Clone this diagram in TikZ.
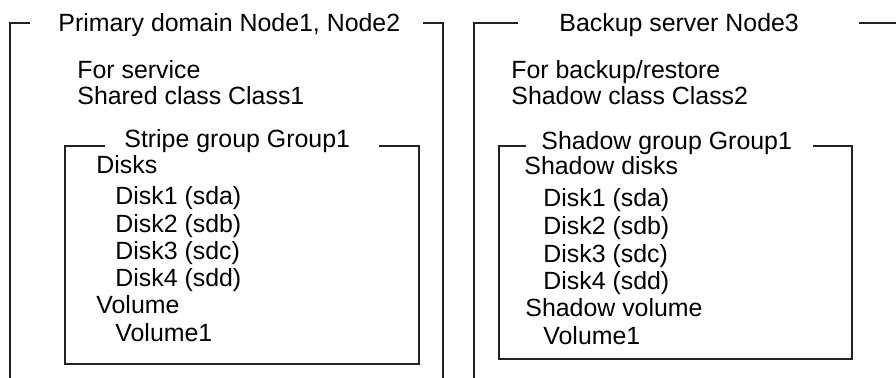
\documentclass[tikz,border=0pt]{standalone}
\usepackage{fontspec}
\setmainfont{Liberation Sans}
\usepackage{xcolor}
\usepackage{tikz}
\definecolor{frameline}{RGB}{34,34,34}

\begin{document}
\begin{tikzpicture}[x=0.5pt, y=-0.5pt, every node/.style={inner sep=0pt, anchor=base west, font=\fontsize{12.45}{15}\selectfont}]
\useasboundingbox (0,0) rectangle (896,378);
% primary domain
\node (pdtitle) at (58,32) {Primary domain Node1, Node2};
\draw[line width=1pt, color=frameline] (30,23) -- (10,23) -- (10,378);
\draw[line width=1pt, color=frameline] (423,23) -- (443,23) -- (443,378);
\node (pduse) at (77,79) {For service};
\node (pdclass) at (77,105) {Shared class Class1};
% stripe group
\node (sgtitle) at (124,148) {Stripe group Group1};
\draw[line width=1pt, color=frameline] (105,146) -- (65,146) -- (65,364) -- (419,364) -- (419,146) -- (379,146);
\node (sgdisks) at (96,174) {Disks};
\foreach \i/\d/\y in {1/a/205,2/b/233,3/c/260,4/d/287}
  \node (sgdisk\i) at (115,\y) {Disk\i{} (sd\d)};
\node (sgvol) at (96,314) {Volume};
\node (sgvolone) at (115,342) {Volume1};
% backup server
\node (bstitle) at (559,32) {Backup server Node3};
\draw[line width=1pt, color=frameline] (518,23) -- (474,23) -- (474,378);
\draw[line width=1pt, color=frameline] (859,23) -- (896,23);
\node (bsuse) at (511,79) {For backup/restore};
\node (bsclass) at (511,105) {Shadow class Class2};
% shadow group
\node (shtitle) at (541,150) {Shadow group Group1};
\draw[line width=1pt, color=frameline] (526,146) -- (499,146) -- (499,359) -- (852,359) -- (852,146) -- (813,146);
\node (shdisks) at (524,175) {Shadow disks};
\foreach \i/\d/\y in {1/a/207,2/b/235,3/c/263,4/d/290}
  \node (shdisk\i) at (543,\y) {Disk\i{} (sd\d)};
\node (shvol) at (525,317) {Shadow volume};
\node (shvolone) at (543,345) {Volume1};
\end{tikzpicture}
\end{document}
